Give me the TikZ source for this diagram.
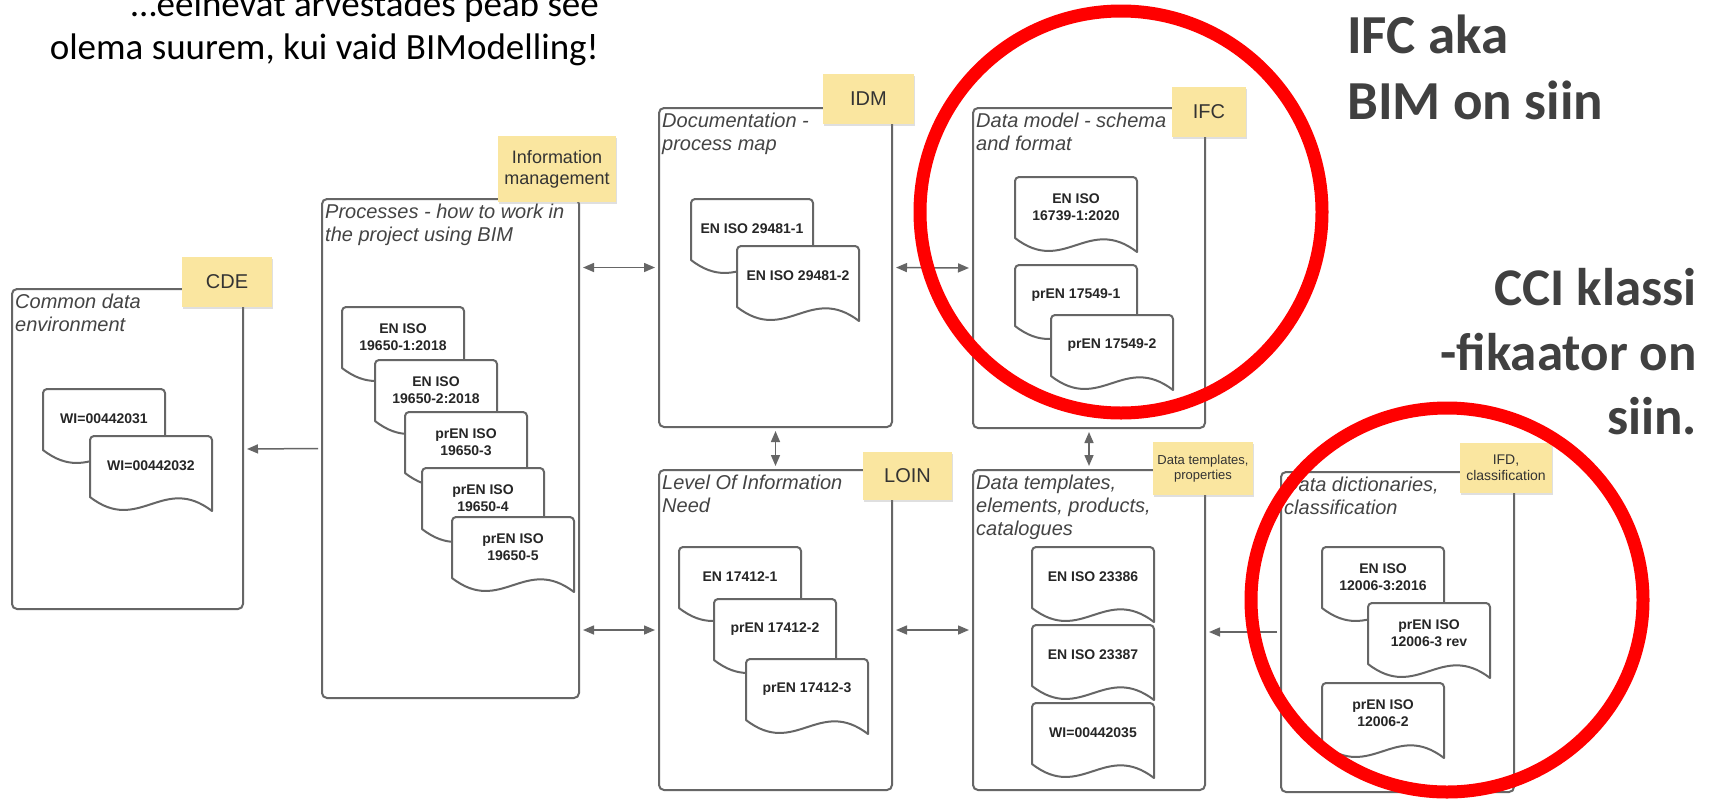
\documentclass[tikz,border=0pt]{standalone}
\usepackage{fontspec}
\setmainfont{Liberation Sans}
\newfontfamily\slidefont{Carlito}
\usetikzlibrary{arrows.meta,shadows}

\definecolor{linegray}{HTML}{666666}
\definecolor{titlegray}{HTML}{444444}
\definecolor{stickyyellow}{HTML}{FAE6A0}
\definecolor{slidegray}{HTML}{404040}
\definecolor{ringred}{HTML}{FF0000}

% document sheet with a wavy bottom, top left corner at (#2,#3)
\newcommand{\isodoc}[4]{%
  \draw[docshape] (#2,#3+61) -- (#2,#3+4) arc[start angle=180,end angle=270,radius=4]
    -- (#2+118,#3) arc[start angle=270,end angle=360,radius=4]
    -- (#2+122,#3+75) .. controls (#2+73,#3+37.5) and (#2+49,#3+99) .. (#2,#3+61) -- cycle;
  \node[doctext] (#1) at (#2+61,#3+30) {#4};}

\begin{document}
\begin{tikzpicture}[x=1pt,y=-1pt,
    panel/.style={draw=linegray, line width=2pt, rounded corners=5pt, fill=white, inner sep=0pt},
    paneltitle/.style={anchor=north west, inner sep=0pt, align=left, text=titlegray, font=\fontsize{20}{23}\selectfont\itshape},
    sticky/.style={fill=stickyyellow, inner sep=2pt, align=center, text=black!80,
      drop shadow={shadow xshift=1pt, shadow yshift=-2pt, opacity=0.25}},
    docshape/.style={draw=linegray, line width=2pt, fill=white, line join=round},
    doctext/.style={inner sep=0pt, align=center, text=black!85, font=\fontsize{14}{17}\selectfont\bfseries},
    link/.style={draw=linegray, line width=1.5pt, shorten <=3pt, shorten >=3pt, -{Triangle[length=11pt,width=9pt]}},
    twoway/.style={link, {Triangle[length=11pt,width=9pt]}-{Triangle[length=11pt,width=9pt]}},
    ring/.style={draw=ringred, line width=13pt},
    slide/.style={inner sep=0pt, text=slidegray, font=\slidefont\bfseries\fontsize{55}{66}\selectfont}]

  \useasboundingbox[fill=white] (0,0) rectangle (1718,801);

  % panels
  \node[panel, minimum width=231pt, minimum height=320pt] (cde) at (127.5,449) {};
  \node[panel, minimum width=257pt, minimum height=499pt] (proc) at (450.5,448.5) {};
  \node[panel, minimum width=233pt, minimum height=319pt] (docu) at (775.5,267.5) {};
  \node[panel, minimum width=233pt, minimum height=320pt] (loin) at (775.5,630) {};
  \node[panel, minimum width=232pt, minimum height=320pt] (dmod) at (1089,268) {};
  \node[panel, minimum width=232pt, minimum height=320pt] (dtpl) at (1089,630) {};
  \node[panel, minimum width=233pt, minimum height=320pt] (ddic) at (1397.5,632) {};

  \node[paneltitle] (cdeT) at ([shift={(4,6)}]cde.north west) {Common data\\environment};
  \node[paneltitle] (procT) at ([shift={(4,6)}]proc.north west) {Processes - how to work in\\the project using BIM};
  \node[paneltitle] (docuT) at ([shift={(4,6)}]docu.north west) {Documentation -\\process map};
  \node[paneltitle] (loinT) at ([shift={(4,6)}]loin.north west) {Level Of Information\\Need};
  \node[paneltitle] (dmodT) at ([shift={(4,6)}]dmod.north west) {Data model - schema\\and format};
  \node[paneltitle] (dtplT) at ([shift={(4,6)}]dtpl.north west) {Data templates,\\elements, products,\\catalogues};
  \node[paneltitle] (ddicT) at ([shift={(4,6)}]ddic.north west) {Data dictionaries,\\classification};

  % connectors
  \draw[link] (proc.west) -- (cde.east);
  \draw[twoway] (proc.east |- docu.west) -- (docu.west);
  \draw[twoway] (docu.east) -- (dmod.west);
  \draw[twoway] (docu.south) -- (loin.north);
  \draw[twoway] (dmod.south) -- (dtpl.north);
  \draw[twoway] (proc.east |- loin.west) -- (loin.west);
  \draw[twoway] (loin.east) -- (dtpl.west);
  \draw[link] (ddic.west) -- (dtpl.east |- ddic.west);

  % notes
  \node[sticky, minimum width=90pt, minimum height=50pt, font=\fontsize{20}{23}\selectfont] (cdeN) at (227,282) {CDE};
  \node[sticky, minimum width=118pt, minimum height=66pt, font=\fontsize{18}{21}\selectfont] (procN) at (557,169) {Information\\management};
  \node[sticky, minimum width=91pt, minimum height=50pt, font=\fontsize{20}{23}\selectfont] (docuN) at (868.5,99) {IDM};
  \node[sticky, minimum width=74pt, minimum height=50pt, font=\fontsize{20}{23}\selectfont] (dmodN) at (1209,112) {IFC};
  \node[sticky, minimum width=89pt, minimum height=48pt, font=\fontsize{20}{23}\selectfont] (loinN) at (907.5,476) {LOIN};
  \node[sticky, minimum width=100pt, minimum height=53pt, font=\fontsize{13}{15}\selectfont] (dtplN) at (1203,468.5) {Data templates,\\properties};
  \node[sticky, minimum width=92pt, minimum height=50pt, font=\fontsize{14}{16}\selectfont] (ddicN) at (1506,468) {IFD,\\classification};

  % standards
  \isodoc{cdeA}{43}{389}{WI=00442031}
  \isodoc{cdeB}{90}{436}{WI=00442032}
  \isodoc{procA}{342}{307}{EN ISO\\19650-1:2018}
  \isodoc{procB}{375}{360}{EN ISO\\19650-2:2018}
  \isodoc{procC}{405}{412}{prEN ISO\\19650-3}
  \isodoc{procD}{422}{468}{prEN ISO\\19650-4}
  \isodoc{procE}{452}{517}{prEN ISO\\19650-5}
  \isodoc{docuA}{691}{199}{EN ISO 29481-1}
  \isodoc{docuB}{737}{246}{EN ISO 29481-2}
  \isodoc{loinA}{679}{547}{EN 17412-1}
  \isodoc{loinB}{714}{599}{prEN 17412-2}
  \isodoc{loinC}{746}{659}{prEN 17412-3}
  \isodoc{dmodA}{1015}{177}{EN ISO\\16739-1:2020}
  \isodoc{dmodB}{1015}{265}{prEN 17549-1}
  \isodoc{dmodC}{1051}{315}{prEN 17549-2}
  \isodoc{dtplA}{1032}{547}{EN ISO 23386}
  \isodoc{dtplB}{1032}{625}{EN ISO 23387}
  \isodoc{dtplC}{1032}{703}{WI=00442035}
  \isodoc{ddicA}{1322}{547}{EN ISO\\12006-3:2016}
  \isodoc{ddicB}{1368}{603}{prEN ISO\\12006-3 rev}
  \isodoc{ddicC}{1322}{683}{prEN ISO\\12006-2}

  % slide marks
  \draw[ring] (1121,212) circle[radius=201];
  \draw[ring] (1447,600) ellipse[x radius=196, y radius=192];

  \node[anchor=base east, inner sep=0pt, font=\slidefont\fontsize{37}{44}\selectfont] (lead1) at (599,16) {…eelnevat arvestades peab see};
  \node[anchor=base east, inner sep=0pt, font=\slidefont\fontsize{37}{44}\selectfont] (lead2) at (599,59) {olema suurem, kui vaid BIModelling!};

  \node[slide, anchor=base west] (ifc1) at (1347,53) {IFC aka};
  \node[slide, anchor=base west] (ifc2) at (1347,119) {BIM on siin};
  \node[slide, anchor=base east, font=\slidefont\bfseries\fontsize{53}{64}\selectfont] (cci1) at (1697,305) {CCI klassi};
  \node[slide, anchor=base east, font=\slidefont\bfseries\fontsize{53}{64}\selectfont] (cci2) at (1697,370) {-fikaator on};
  \node[slide, anchor=base east, font=\slidefont\bfseries\fontsize{53}{64}\selectfont] (cci3) at (1697,434) {siin.};
\end{tikzpicture}
\end{document}
